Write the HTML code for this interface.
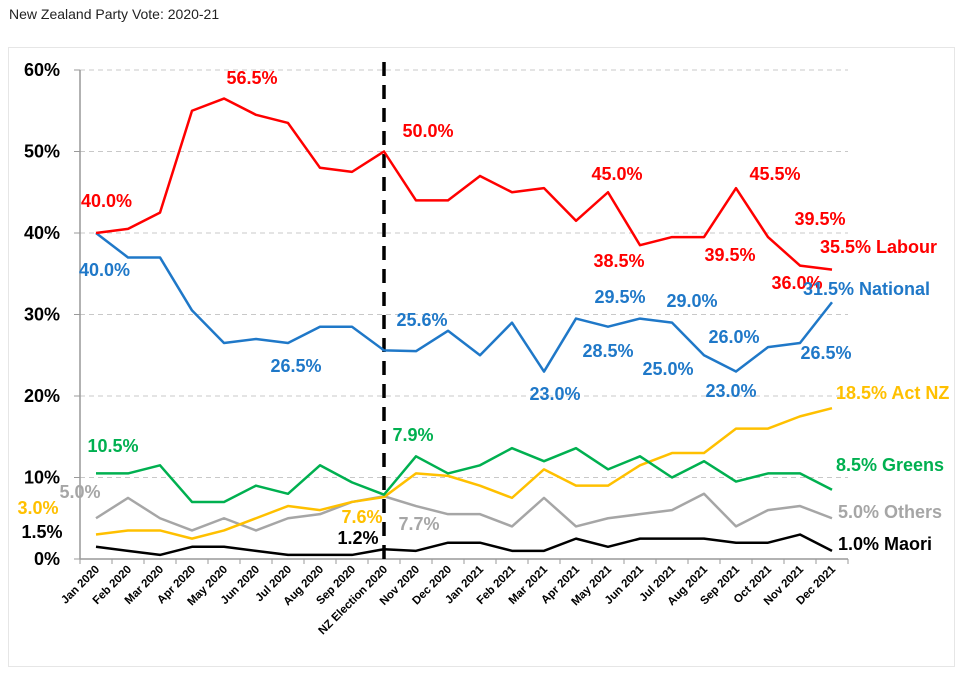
<!DOCTYPE html>
<html><head><meta charset="utf-8"><style>
body{margin:0;background:#fff;width:965px;height:680px;overflow:hidden;font-family:"Liberation Sans",sans-serif}
#title{position:absolute;left:9px;top:6px;font-size:14px;color:#222}
#box{position:absolute;left:8px;top:47px;width:947px;height:620px;border:1px solid #e6e6e6;box-sizing:border-box}
svg{position:absolute;left:0;top:0}
</style></head><body>
<div id="title">New Zealand Party Vote: 2020-21</div>
<div id="box"></div>
<svg id="chart" width="965" height="680"></svg>
<script>
const categories=["Jan 2020","Feb 2020","Mar 2020","Apr 2020","May 2020","Jun 2020","Jul 2020","Aug 2020","Sep 2020","NZ Election 2020","Nov 2020","Dec 2020","Jan 2021","Feb 2021","Mar 2021","Apr 2021","May 2021","Jun 2021","Jul 2021","Aug 2021","Sep 2021","Oct 2021","Nov 2021","Dec 2021"];
const labour=[40,40.5,42.5,55,56.5,54.5,53.5,48,47.5,50,44,44,47,45,45.5,41.5,45,38.5,39.5,39.5,45.5,39.5,36,35.5];
const national=[40,37,37,30.5,26.5,27,26.5,28.5,28.5,25.6,25.5,28,25,29,23,29.5,28.5,29.5,29,25,23,26,26.5,31.5];
const greens=[10.5,10.5,11.5,7,7,9,8,11.5,9.4,7.9,12.6,10.5,11.5,13.6,12,13.6,11,12.6,10,12,9.5,10.5,10.5,8.5];
const actnz=[3,3.5,3.5,2.5,3.5,5,6.5,6,7,7.6,10.5,10.2,9,7.5,11,9,9,11.5,13,13,16,16,17.5,18.5];
const others=[5,7.5,5,3.5,5,3.5,5,5.5,7,7.7,6.5,5.5,5.5,4,7.5,4,5,5.5,6,8,4,6,6.5,5];
const maori=[1.5,1,0.5,1.5,1.5,1,0.5,0.5,0.5,1.2,1,2,2,1,1,2.5,1.5,2.5,2.5,2.5,2,2,3,1];
const yTicks=[0,10,20,30,40,50,60];
const yTickLabels=["0%","10%","20%","30%","40%","50%","60%"];

const NS="http://www.w3.org/2000/svg";
const svg=document.getElementById('chart');
const x=i=>96+i*32;
const y=v=>559-v*8.15;
function mk(tag,attrs,parent){const e=document.createElementNS(NS,tag);for(const k in attrs)e.setAttribute(k,attrs[k]);(parent||svg).appendChild(e);return e;}

yTicks.forEach((t,i)=>{
  if(t>0){const g=mk('line',{x1:80,x2:848,y1:y(t),y2:y(t),stroke:'#c8c8c8','stroke-dasharray':'5,4','stroke-width':1});
  
  }
  mk('line',{x1:74,x2:80,y1:y(t),y2:y(t),stroke:'#999'});
  const tl=mk('text',{x:60,y:y(t)+6,'text-anchor':'end','font-size':18,'font-weight':'bold',fill:'#000'});
  tl.textContent=yTickLabels[i];
  
  
});
const ya=mk('line',{x1:80,x2:80,y1:y(60),y2:y(0),stroke:'#999','stroke-width':1.5});


const xa=mk('line',{x1:80,x2:848,y1:y(0),y2:y(0),stroke:'#999','stroke-width':1.5});


for(let i=0;i<=categories.length;i++)mk('line',{x1:80+i*32,x2:80+i*32,y1:y(0),y2:y(0)+5,stroke:'#999'});
categories.forEach((c,i)=>{
  const t=mk('text',{x:x(i)+4,y:570,'text-anchor':'end','font-size':11.5,'font-weight':'bold',fill:'#000',transform:`rotate(-45 ${x(i)+4} 570)`});
  t.textContent=c;
  
  
});
const el=mk('line',{x1:x(9),x2:x(9),y1:62,y2:y(0),stroke:'#000','stroke-width':3.5,'stroke-dasharray':'14,9'});



const series=[["maori",maori,'#000'],["others",others,'#a6a6a6'],["actnz",actnz,'#ffc000'],["greens",greens,'#00b050'],["national",national,'#1f78c8'],["labour",labour,'#ff0000']];
series.forEach(([n,d,c])=>{
  const p=mk('polyline',{points:d.map((v,i)=>x(i)+','+y(v)).join(' '),fill:'none',stroke:c,'stroke-width':2.5,'stroke-linejoin':'round'});
  
  
});

const labels=[
 [81,207,'40.0%','#ff0000','start'],[252,84,'56.5%','#ff0000','middle'],[428,137,'50.0%','#ff0000','middle'],[617,180,'45.0%','#ff0000','middle'],[775,180,'45.5%','#ff0000','middle'],[820,225,'39.5%','#ff0000','middle'],[820,253,'35.5% Labour','#ff0000','start'],[619,267,'38.5%','#ff0000','middle'],[730,261,'39.5%','#ff0000','middle'],[797,289,'36.0%','#ff0000','middle'],
 [79,276,'40.0%','#1f78c8','start'],[296,372,'26.5%','#1f78c8','middle'],[422,326,'25.6%','#1f78c8','middle'],[620,303,'29.5%','#1f78c8','middle'],[692,307,'29.0%','#1f78c8','middle'],[803,295,'31.5% National','#1f78c8','start'],[608,357,'28.5%','#1f78c8','middle'],[668,375,'25.0%','#1f78c8','middle'],[555,400,'23.0%','#1f78c8','middle'],[731,397,'23.0%','#1f78c8','middle'],[734,343,'26.0%','#1f78c8','middle'],[826,359,'26.5%','#1f78c8','middle'],
 [836,399,'18.5% Act NZ','#ffc000','start'],[362,523,'7.6%','#ffc000','middle'],[38,514,'3.0%','#ffc000','middle'],
 [113,452,'10.5%','#00b050','middle'],[413,441,'7.9%','#00b050','middle'],[836,471,'8.5% Greens','#00b050','start'],
 [80,498,'5.0%','#a6a6a6','middle'],[419,530,'7.7%','#a6a6a6','middle'],[838,518,'5.0% Others','#a6a6a6','start'],
 [42,538,'1.5%','#000','middle'],[358,544,'1.2%','#000','middle'],[838,550,'1.0% Maori','#000','start']
];
labels.forEach(([lx,ly,t,c,a])=>{
  const e=mk('text',{x:lx,y:ly,fill:c,'text-anchor':a,'font-size':18,'font-weight':'bold'});
  e.textContent=t;
  
  
});
</script>
</body></html>
